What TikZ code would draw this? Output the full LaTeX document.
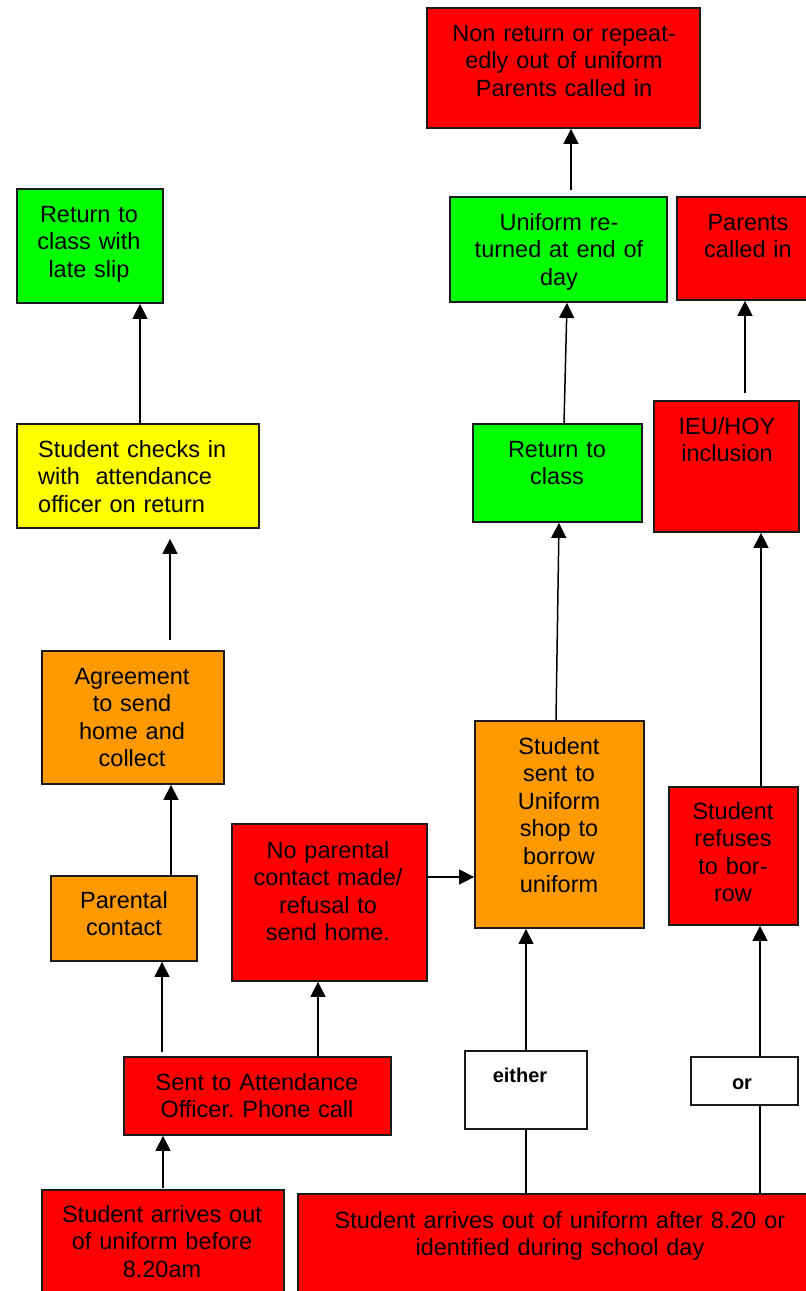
\documentclass[tikz,border=0pt]{standalone}
\usepackage{fontspec}
\setmainfont{Liberation Sans}
\usetikzlibrary{arrows.meta}
\frenchspacing
\definecolor{cred}{HTML}{FF0000}
\definecolor{cgreen}{HTML}{00FF00}
\definecolor{cyellow}{HTML}{FFFF00}
\definecolor{corange}{HTML}{FF9900}
\definecolor{cborder}{HTML}{1A1A1A}
\begin{document}
\begin{tikzpicture}[x=1pt,y=-1pt,
  box/.style={draw=cborder, line width=1.8pt, rectangle, inner sep=0pt, minimum width=#1},
  txt/.style={anchor=base, inner sep=0pt, text width=320pt, align=center, font=\fontsize{23.5}{27.6}\selectfont\frenchspacing},
  smalltxt/.style={anchor=base, inner sep=0pt, font=\fontsize{20}{23}\selectfont\bfseries},
  arr/.style={draw=black, line width=1.5pt, -{Triangle[length=15pt,width=15pt]}},
  ln/.style={draw=black, line width=1.5pt}]
\useasboundingbox (0,0) rectangle (806,1291);
\clip (0,0) rectangle (806,1291);
\fill[white] (0,0) rectangle (806,1291);

% boxes
\node[box=273pt, minimum height=120pt, fill=cred]    (nonret)   at (563.5,68) {};
\node[box=217pt, minimum height=105pt, fill=cgreen]  (uniret)   at (558.5,249.5) {};
\node[box=145pt, minimum height=103pt, fill=cred]    (parents)  at (749.5,248.5) {};
\node[box=146pt, minimum height=114pt, fill=cgreen]  (lateslip) at (90,246) {};
\node[box=242pt, minimum height=104pt, fill=cyellow] (checks)   at (138,476) {};
\node[box=182pt, minimum height=133pt, fill=corange] (agree)    at (133,717.5) {};
\node[box=146pt, minimum height=85pt,  fill=corange] (parental) at (124,918.5) {};
\node[box=195pt, minimum height=157pt, fill=cred]    (nopar)    at (329.5,902.5) {};
\node[box=169pt, minimum height=207pt, fill=corange] (shop)     at (559.5,824.5) {};
\node[box=169pt, minimum height=98pt,  fill=cgreen]  (retcls)   at (557.5,473) {};
\node[box=145pt, minimum height=131pt, fill=cred]    (ieu)      at (726.5,466.5) {};
\node[box=129pt, minimum height=138pt, fill=cred]    (refuse)   at (733.5,856) {};
\node[box=267pt, minimum height=78pt,  fill=cred]    (sent)     at (257.5,1096) {};
\node[box=242pt, minimum height=115pt, fill=cred]    (before)   at (163,1247.5) {};
\node[box=122pt, minimum height=78pt,  fill=white]   (either)   at (526,1090) {};
\node[box=107pt, minimum height=48pt,  fill=white]   (orbox)    at (744.5,1081) {};
\node[box=524pt, minimum height=111pt, fill=cred]    (big)      at (560,1249.5) {};

% texts
\node[txt] (tnonret) at (564,41) {Non return or repeat-\\edly out of uniform\\Parents called in};
\node[txt] (tuniret) at (559,230) {Uniform re-\\turned at end of\\day};
\node[txt] (tparents) at (748,230) {Parents\\called in};
\node[txt] (tlateslip) at (89,222) {Return to\\class with\\late slip};
\node[txt, anchor=base west, text width=230pt, align=left] (tchecks) at (38,457) {Student checks in\\with\ \ attendance\\officer on return};
\node[txt] (tagree) at (132,684) {Agreement\\to send\\home and\\collect};
\node[txt] (tparental) at (124,908) {Parental\\contact};
\node[txt] (tnopar) at (328,858) {No parental\\contact made/\\refusal to\\send home.};
\node[txt] (tshop) at (559,754) {Student\\sent to\\Uniform\\shop to\\borrow\\uniform};
\node[txt] (tretcls) at (557,457) {Return to\\class};
\node[txt] (tieu) at (727,434) {IEU/HOY\\inclusion};
\node[txt] (trefuse) at (733,819) {Student\\refuses\\to bor-\\row};
\node[txt] (tsent) at (257,1090) {Sent to Attendance\\Officer. Phone call};
\node[txt] (tbefore) at (162,1222) {Student arrives out\\of uniform before\\8.20am};
\node[smalltxt] (teither) at (520,1082) {either};
\node[smalltxt] (tor) at (742,1089) {or};
\node[txt, text width=500pt] (tbig) at (560,1228) {Student arrives out of uniform after 8.20 or\\identified during school day};

% free ends
\coordinate (s1) at (571,190);
\coordinate (s2) at (170,640);
\coordinate (s3) at (745,393);
\coordinate (s4) at (162,1052);
\coordinate (s5) at (163,1188);

% connectors
\draw[arr] (s1) -- (s1 |- nonret.south);
\draw[arr] (checks.north -| 140,0) -- (lateslip.south -| 140,0);
\draw[arr] (s2) -- ([yshift=-10pt]s2 |- checks.south);
\draw[arr] (parental.north -| 171,0) -- (agree.south -| 171,0);
\draw[arr] (s4) -- (s4 |- parental.south);
\draw[arr] (sent.north -| 318,0) -- (nopar.south -| 318,0);
\draw[arr] (s5) -- (s5 |- sent.south);
\draw[arr] (nopar.east |- 0,877) -- (shop.west |- 0,877);
\draw[arr] (shop.north -| 556,0) -- (retcls.south -| 559,0);
\draw[arr] (retcls.north -| 564,0) -- (uniret.south -| 567,0);
\draw[arr] (s3) -- (s3 |- parents.south);
\draw[arr] (refuse.north -| 761,0) -- (ieu.south -| 761,0);
\draw[ln] (big.north -| 526,0) -- (either.south);
\draw[arr] (either.north) -- (shop.south -| 526,0);
\draw[ln] (big.north -| 760,0) -- (orbox.south -| 760,0);
\draw[arr] (orbox.north -| 760,0) -- (refuse.south -| 760,0);
\end{tikzpicture}
\end{document}
